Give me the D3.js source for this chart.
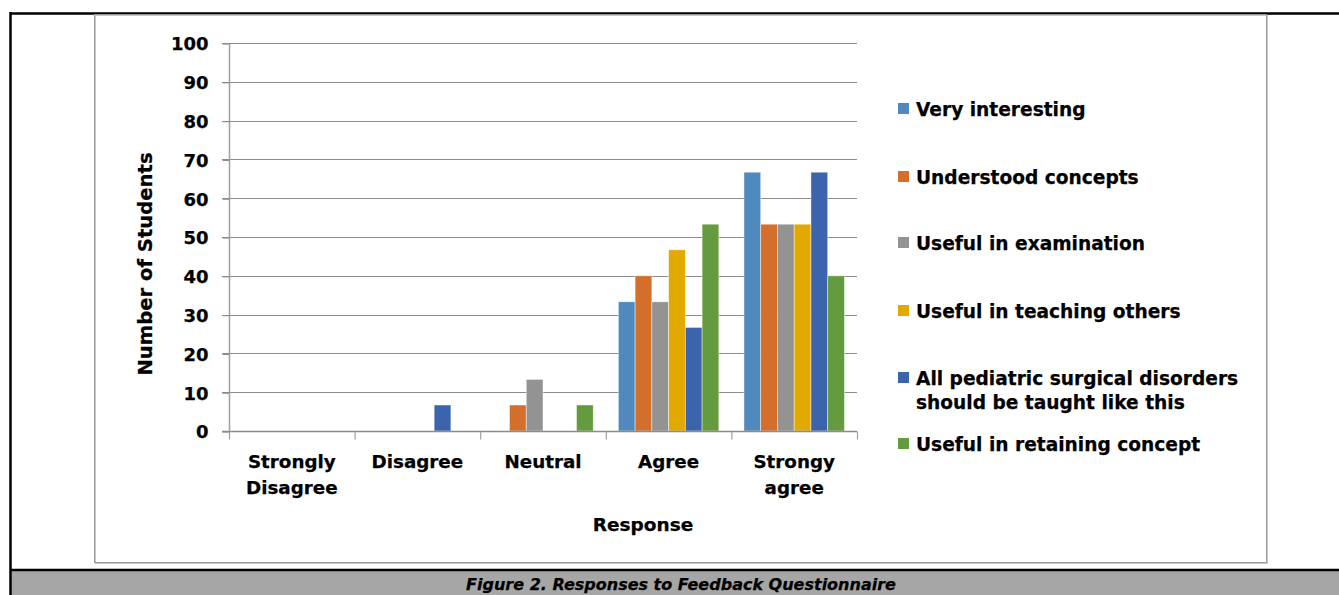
<!DOCTYPE html>
<html>
<head>
<meta charset="utf-8">
<script src="https://cdn.jsdelivr.net/npm/d3@7/dist/d3.min.js"></script>
<style>
  html, body { margin: 0; padding: 0; background: #ffffff; }
  svg { display: block; }
  text { font-family: "DejaVu Sans", Verdana, sans-serif; font-weight: bold; fill: #000; stroke: #000; stroke-width: 0.25; }
</style>
</head>
<body>
<svg id="chart" width="1339" height="595"></svg>
<script>
const categories = [["Strongly", "Disagree"], ["Disagree"], ["Neutral"], ["Agree"], ["Strongy", "agree"]];
const categoryKeys = ["Strongly Disagree", "Disagree", "Neutral", "Agree", "Strongy agree"];
const seriesNames = [
  "Very interesting",
  "Understood concepts",
  "Useful in examination",
  "Useful in teaching others",
  "All pediatric surgical disorders should be taught like this",
  "Useful in retaining concept"
];
const legendLines = [
  ["Very interesting"],
  ["Understood concepts"],
  ["Useful in examination"],
  ["Useful in teaching others"],
  ["All pediatric surgical disorders", "should be taught like this"],
  ["Useful in retaining concept"]
];
const seriesColors = ["#4f89bd", "#d46e2b", "#939393", "#e2a900", "#3b64ad", "#639b3e"];
// values per series, in category order
const veryInteresting      = [0, 0, 0, 33.3, 66.7];
const understoodConcepts   = [0, 0, 6.7, 40, 53.3];
const usefulInExamination  = [0, 0, 13.3, 33.3, 53.3];
const usefulInTeaching     = [0, 0, 0, 46.7, 53.3];
const allPediatric         = [0, 6.7, 0, 26.7, 66.7];
const usefulInRetaining    = [0, 0, 6.7, 53.3, 40];
const yTicks = [0, 10, 20, 30, 40, 50, 60, 70, 80, 90, 100];
const yTitle = "Number of Students";
const xTitle = "Response";
const caption = "Figure 2. Responses to Feedback Questionnaire";

const seriesValues = [veryInteresting, understoodConcepts, usefulInExamination, usefulInTeaching, allPediatric, usefulInRetaining];

const svg = d3.select("#chart");

// outer frame (page table)
svg.append("rect").attr("x", 10).attr("y", 571).attr("width", 1340).attr("height", 30).attr("fill", "#a6a6a6");
svg.append("line").attr("x1", 10).attr("x2", 1339).attr("y1", 13.5).attr("y2", 13.5).attr("stroke", "#000").attr("stroke-width", 2.5);
svg.append("line").attr("x1", 10).attr("x2", 1339).attr("y1", 570).attr("y2", 570).attr("stroke", "#000").attr("stroke-width", 2.5);
svg.append("line").attr("x1", 10.5).attr("x2", 10.5).attr("y1", 12).attr("y2", 595).attr("stroke", "#000").attr("stroke-width", 2.5);

// chart box
svg.append("rect").attr("x", 95.5).attr("y", 15.5).attr("width", 1172).attr("height", 548)
  .attr("fill", "none").attr("stroke", "#c8c8c8").attr("stroke-width", 1);
svg.append("rect").attr("x", 94.5).attr("y", 14.5).attr("width", 1172).attr("height", 548)
  .attr("fill", "none").attr("stroke", "#9a9a9a").attr("stroke-width", 1);

const pLeft = 229, pRight = 857, pTop = 43, pBottom = 431;

const x0 = d3.scaleBand().domain(categoryKeys).range([pLeft, pRight]).paddingInner(0).paddingOuter(0);
const y = d3.scaleLinear().domain([0, 100]).range([pBottom, pTop]);
const bw = x0.bandwidth() / 7.5;
const x1 = d3.scaleBand().domain(d3.range(seriesNames.length)).range([bw * 0.75, x0.bandwidth() - bw * 0.75]).padding(0);

// gridlines
const gridG = svg.append("g");
gridG.selectAll("line").data(yTicks.filter(t => t > 0)).join("line")
  .attr("x1", pLeft - 7).attr("x2", pRight)
  .attr("y1", d => Math.round(y(d)) + 0.5).attr("y2", d => Math.round(y(d)) + 0.5)
  .attr("stroke", "#8c8c8c").attr("stroke-width", 1.2);

// y axis
const yAxis = d3.axisLeft(y).tickValues(yTicks).tickSize(7).tickPadding(14).tickFormat(d3.format("d"));
const yg = svg.append("g").attr("transform", `translate(${pLeft + 0.5},0.5)`).call(yAxis);
yg.select(".domain").attr("stroke", "#a0a0a0").attr("stroke-width", 1.5).attr("d", `M0,${pTop}V${pBottom}`);
yg.selectAll(".tick line").attr("stroke", "#8c8c8c").attr("stroke-width", 1.2);
yg.selectAll(".tick text").attr("font-size", 18).attr("font-family", "DejaVu Sans").attr("font-weight", "bold").attr("fill", "#000").attr("dy", "0.36em");

// bars
const barG = svg.append("g");
categoryKeys.forEach((cat, ci) => {
  seriesValues.forEach((vals, si) => {
    const v = vals[ci];
    if (v <= 0) return;
    barG.append("rect")
      .attr("x", x0(cat) + x1(si))
      .attr("y", y(v))
      .attr("width", x1.bandwidth())
      .attr("height", y(0) - y(v))
      .attr("fill", seriesColors[si])
      .attr("stroke", "#ffffff").attr("stroke-opacity", 0.55).attr("stroke-width", 0.8);
  });
});

// x axis
const xg = svg.append("g").attr("transform", `translate(0,${Math.round(pBottom) + 0.5})`);
xg.append("line").attr("x1", pLeft - 7).attr("x2", pRight).attr("y1", 0).attr("y2", 0).attr("stroke", "#8c8c8c").attr("stroke-width", 1.5);
const bounds = categoryKeys.map(c => x0(c)).concat([pRight]);
xg.selectAll("line.tk").data(bounds).join("line").attr("class", "tk")
  .attr("x1", d => d + 0.5).attr("x2", d => d + 0.5).attr("y1", 0).attr("y2", 8)
  .attr("stroke", "#a0a0a0").attr("stroke-width", 1.2);
categoryKeys.forEach((cat, ci) => {
  const t = xg.append("text").attr("text-anchor", "middle").attr("font-size", 18.3)
    .attr("x", x0(cat) + x0.bandwidth() / 2).attr("y", 36);
  categories[ci].forEach((ln, li) => {
    t.append("tspan").attr("x", x0(cat) + x0.bandwidth() / 2).attr("dy", li === 0 ? 0 : 26).text(ln);
  });
});

// axis titles
svg.append("text").attr("text-anchor", "middle").attr("font-size", 19.6)
  .attr("transform", `translate(152,264) rotate(-90)`).text(yTitle);
svg.append("text").attr("text-anchor", "middle").attr("font-size", 18.5)
  .attr("x", 643).attr("y", 531).text(xTitle);

// legend
const legendY = [109, 177, 243, 311, 378, 444];
const lg = svg.append("g");
legendLines.forEach((lines, i) => {
  lg.append("rect").attr("x", 898).attr("y", legendY[i] - 6).attr("width", 11).attr("height", 11).attr("fill", seriesColors[i]);
  const t = lg.append("text").attr("font-size", 18.6).attr("x", 916).attr("y", legendY[i] + 6.5);
  lines.forEach((ln, li) => t.append("tspan").attr("x", 916).attr("dy", li === 0 ? 0 : 24).text(ln));
});

// caption
svg.append("text").attr("text-anchor", "middle").attr("font-size", 16).attr("font-style", "italic")
  .attr("x", 681).attr("y", 590).text(caption);
</script>
</body>
</html>
